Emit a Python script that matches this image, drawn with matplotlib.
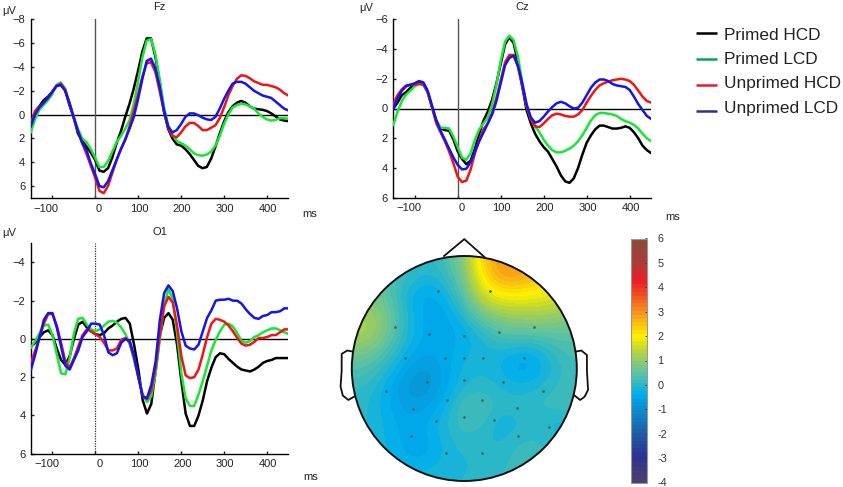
import matplotlib
matplotlib.use("Agg")
import matplotlib.pyplot as plt
import numpy as np
from matplotlib.colors import LinearSegmentedColormap
from matplotlib.patches import Circle
from matplotlib.transforms import ScaledTranslation

plt.rcParams["font.family"] = ["Liberation Sans", "DejaVu Sans"]

W, H = 843, 487

times = list(range(-150, 451, 10))

fz_primed_hcd = [1.2, 0.0, -0.7, -1.2, -1.5, -1.9, -2.4, -2.5, -2.1, -0.8, 0.2, 1.6, 2.2, 2.7, 3.2, 3.8, 4.7, 4.8, 4.5, 3.6, 2.4, 1.4, 0.2, -0.9, -2.2, -3.7, -5.3, -6.4, -6.4, -4.9, -2.8, -0.3, 1.2, 2.0, 2.5, 2.6, 2.9, 3.3, 3.8, 4.3, 4.5, 4.4, 3.7, 2.7, 1.6, 0.6, -0.2, -0.7, -1.0, -1.15, -1.0, -0.7, -0.5, -0.45, -0.4, -0.3, -0.1, 0.15, 0.4, 0.5, 0.55]
fz_primed_lcd = [1.5, 0.4, -0.4, -0.8, -1.2, -1.7, -2.5, -2.7, -2.2, -1.0, 0.2, 1.2, 2.0, 2.3, 2.9, 3.6, 4.4, 4.4, 3.9, 3.1, 2.3, 1.8, 1.2, 0.5, -0.9, -2.8, -4.8, -6.2, -6.35, -5.1, -3.0, -0.7, 0.9, 1.7, 2.2, 2.4, 2.6, 2.9, 3.25, 3.4, 3.45, 3.35, 3.1, 2.6, 1.8, 0.8, 0.0, -0.6, -0.8, -0.9, -0.85, -0.7, -0.5, -0.1, 0.2, 0.4, 0.5, 0.45, 0.3, 0.3, 0.35]
fz_unprimed_hcd = [0.8, -0.3, -0.7, -1.0, -1.4, -1.9, -2.4, -2.6, -2.1, -1.0, 0.3, 1.4, 2.4, 3.3, 4.3, 5.3, 6.4, 6.6, 6.0, 4.9, 3.8, 2.9, 2.1, 1.0, -0.3, -1.7, -3.2, -4.3, -4.4, -3.6, -2.0, -0.3, 1.1, 1.8, 1.9, 1.5, 1.0, 0.7, 0.7, 0.95, 1.3, 1.3, 1.1, 0.9, 0.3, -0.6, -1.6, -2.4, -3.0, -3.3, -3.25, -3.05, -2.8, -2.65, -2.5, -2.5, -2.4, -2.3, -2.1, -1.8, -1.6]
fz_unprimed_lcd = [1.0, 0.0, -0.6, -1.0, -1.4, -1.9, -2.4, -2.5, -2.0, -1.0, 0.2, 1.4, 2.4, 3.0, 4.1, 5.0, 6.0, 6.1, 5.6, 4.7, 3.8, 2.9, 2.1, 1.2, 0.2, -1.3, -3.0, -4.5, -4.7, -3.9, -2.4, -0.4, 1.0, 1.5, 1.3, 0.8, 0.2, -0.1, -0.1, 0.05, 0.25, 0.4, 0.45, 0.2, -0.5, -1.3, -2.0, -2.6, -2.75, -2.75, -2.6, -2.3, -2.0, -1.8, -1.6, -1.5, -1.4, -1.1, -0.8, -0.5, -0.35]

cz_primed_hcd = [0.0, -0.4, -0.9, -1.1, -1.4, -1.6, -1.75, -1.7, -1.1, -0.1, 0.8, 1.35, 1.45, 1.5, 2.1, 2.9, 3.4, 3.75, 3.5, 2.7, 1.7, 0.8, 0.2, -0.6, -1.7, -3.0, -4.3, -4.8, -4.4, -3.1, -1.5, 0.1, 1.0, 1.7, 2.2, 2.6, 2.9, 3.4, 3.9, 4.5, 4.9, 5.0, 4.7, 4.0, 3.1, 2.3, 1.8, 1.4, 1.15, 1.15, 1.25, 1.35, 1.35, 1.3, 1.2, 1.3, 1.6, 2.0, 2.5, 2.8, 3.0]
cz_primed_lcd = [1.1, 0.2, -0.5, -0.95, -1.2, -1.5, -1.65, -1.6, -1.1, -0.1, 0.9, 1.3, 1.3, 1.35, 1.9, 2.6, 3.3, 3.45, 3.0, 2.1, 1.4, 1.0, 0.6, -0.3, -1.6, -3.2, -4.5, -4.9, -4.6, -3.5, -1.8, -0.2, 0.7, 1.2, 1.6, 2.1, 2.5, 2.8, 2.95, 2.95, 2.85, 2.7, 2.5, 2.2, 1.8, 1.3, 0.8, 0.45, 0.3, 0.3, 0.35, 0.4, 0.5, 0.7, 0.85, 0.95, 1.1, 1.35, 1.7, 2.0, 2.2]
cz_unprimed_hcd = [-0.3, -0.9, -1.3, -1.55, -1.6, -1.6, -1.65, -1.6, -1.1, -0.1, 1.0, 1.6, 2.2, 2.9, 3.7, 4.6, 4.95, 4.85, 4.1, 3.0, 2.1, 1.4, 1.0, 0.3, -0.7, -1.9, -3.1, -3.6, -3.6, -2.8, -1.5, -0.2, 0.7, 1.2, 1.25, 1.0, 0.7, 0.45, 0.35, 0.4, 0.5, 0.55, 0.55, 0.4, 0.1, -0.4, -0.85, -1.25, -1.55, -1.7, -1.8, -1.9, -1.95, -2.0, -1.95, -1.85, -1.6, -1.2, -0.8, -0.5, -0.4]
cz_unprimed_lcd = [0.0, -0.7, -1.2, -1.5, -1.6, -1.7, -1.85, -1.75, -1.2, -0.2, 0.8, 1.5, 2.1, 2.7, 3.3, 3.8, 4.1, 4.05, 3.6, 2.9, 2.2, 1.6, 1.0, 0.4, -0.5, -1.7, -2.9, -3.4, -3.55, -2.9, -1.7, -0.3, 0.6, 0.95, 0.85, 0.55, 0.2, -0.1, -0.35, -0.45, -0.35, -0.15, 0.0, -0.05, -0.4, -0.9, -1.4, -1.75, -1.95, -1.95, -1.85, -1.65, -1.55, -1.5, -1.45, -1.25, -0.8, -0.3, 0.1, 0.5, 0.7]

o1_primed_hcd = [0.4, 0.2, -0.1, -0.35, -0.45, -0.2, 0.5, 1.1, 1.35, 0.9, 0.0, -0.75, -0.9, -0.6, -0.4, -0.25, -0.2, -0.3, -0.55, -0.7, -0.9, -1.05, -1.1, -0.8, 0.3, 1.6, 3.2, 3.9, 3.4, 1.7, -0.2, -1.1, -1.35, -1.0, 0.3, 2.2, 3.9, 4.55, 4.55, 4.0, 3.2, 2.2, 1.5, 0.95, 0.75, 0.8, 1.05, 1.25, 1.45, 1.6, 1.65, 1.7, 1.6, 1.45, 1.25, 1.15, 1.1, 1.0, 1.0, 1.0, 1.0]
o1_primed_lcd = [0.45, 0.1, -0.3, -0.7, -0.75, -0.2, 0.8, 1.8, 1.85, 1.0, -0.3, -1.05, -1.1, -0.75, -0.5, -0.4, -0.5, -0.7, -0.9, -0.95, -0.85, -0.6, -0.25, 0.3, 1.1, 2.0, 2.9, 3.3, 3.0, 1.8, 0.0, -1.8, -2.6, -2.1, -0.3, 1.8, 3.1, 3.5, 3.5, 2.9, 2.2, 1.4, 0.6, 0.05, -0.4, -0.75, -0.8, -0.65, -0.3, 0.1, 0.2, 0.1, -0.1, -0.2, -0.35, -0.45, -0.55, -0.55, -0.45, -0.35, -0.25]
o1_unprimed_hcd = [1.2, 0.6, -0.1, -0.8, -1.3, -1.3, -0.7, 0.2, 1.2, 1.5, 1.0, 0.4, -0.2, -0.5, -0.4, -0.25, -0.1, 0.2, 0.6, 0.6, 0.5, 0.05, -0.05, 0.2, 1.0, 2.0, 3.0, 3.15, 2.7, 1.5, -0.2, -1.7, -2.2, -1.9, -0.7, 0.9, 1.9, 2.05, 2.0, 1.6, 0.8, -0.1, -0.8, -1.05, -1.0, -0.9, -0.7, -0.4, -0.05, 0.25, 0.35, 0.3, 0.15, -0.05, -0.05, -0.1, -0.2, -0.2, -0.35, -0.5, -0.5]
o1_unprimed_lcd = [1.6, 0.8, -0.1, -1.0, -1.35, -1.35, -0.6, 0.4, 1.4, 1.6, 1.1, 0.6, -0.1, -0.4, -0.8, -0.8, -0.75, -0.2, 0.7, 0.85, 0.75, 0.2, 0.0, 0.1, 0.9, 2.0, 3.0, 3.1, 2.4, 1.2, -1.0, -2.4, -2.8, -2.5, -1.6, -0.4, 0.35, 0.5, 0.55, 0.3, -0.4, -1.1, -1.5, -2.0, -2.05, -2.05, -2.1, -2.0, -2.0, -1.85, -1.55, -1.3, -1.1, -1.05, -1.2, -1.25, -1.4, -1.4, -1.45, -1.6, -1.6]

condition_names = ["Primed HCD", "Primed LCD", "Unprimed HCD", "Unprimed LCD"]
curve_colors = ["#000000", "#17e636", "#f01414", "#1414f0"]
legend_colors = ["#000000", "#00a651", "#ed1c24", "#2e3192"]

# scalp map values, rows from nose to back, columns left to right
topo = [
    [0, 0, 0, 0, 0, 0.2, 0.9, 2.5, 2.9, 2.9, 2.5, 2, 2],
    [0.4, 0.4, 0.4, 0.1, -0.1, 0.1, 0.8, 2.2, 3.0, 2.9, 2.6, 2, 2],
    [0.9, 0.8, 0.4, -0.2, -0.5, -0.3, 0.5, 1.7, 2.1, 2.1, 2.0, 1.8, 1.5],
    [1.1, 1.1, 0.7, -0.2, -0.5, -0.5, 0.0, 0.9, 1.2, 1.3, 1.3, 1.2, 1],
    [1.3, 1.3, 0.7, -0.1, -0.5, -0.5, -0.4, 0.0, 0.5, 0.6, 0.6, 0.6, 0.5],
    [0.9, 0.8, 0.3, -0.3, -0.5, -0.5, -0.3, -0.2, -0.1, -0.3, -0.2, 0.2, 0.3],
    [0.4, 0.3, -0.1, -0.6, -0.8, -0.5, -0.2, -0.1, -0.3, -0.6, -0.4, 0, 0.2],
    [0.1, 0, -0.4, -0.8, -0.9, -0.5, -0.1, 0, -0.1, -0.2, -0.1, 0.1, 0.2],
    [0, -0.1, -0.4, -0.7, -0.6, -0.3, 0.3, 0.3, 0, 0, 0.1, 0.2, 0.2],
    [0, -0.1, -0.3, -0.5, -0.4, -0.1, 0.2, 0.1, -0.3, -0.1, 0, -0.3, 0],
    [0, -0.1, -0.3, -0.5, -0.5, -0.2, 0, -0.1, -0.1, 0.1, 0.1, 0, 0],
    [0, 0, -0.2, -0.4, -0.4, -0.2, -0.1, -0.1, 0, 0.2, 0.1, 0, 0],
    [0, 0, 0, -0.1, -0.1, -0.1, -0.1, 0, 0.1, 0.1, 0, 0, 0],
]

elec_x = [-0.23, 0.23, -0.62, -0.31, 0, 0.31, 0.62, -0.53, -0.17, 0, 0.17, 0.53, -0.33, 0, 0.34, -0.70, -0.15, 0.16, 0.70, -0.46, 0.47, -0.25, 0, 0.26, 0.75, -0.47, 0.48, -0.16, 0.16]
elec_y = [0.69, 0.69, 0.37, 0.31, 0.29, 0.32, 0.37, 0.09, 0.09, 0.09, 0.09, 0.09, -0.12, -0.10, -0.12, -0.20, -0.28, -0.28, -0.20, -0.36, -0.35, -0.47, -0.43, -0.46, -0.52, -0.60, -0.60, -0.75, -0.75]

nose_x = [-0.18, 0, 0.18]
nose_y = [1.0, 1.15, 0.99]
ear_l_x = [-0.99, -1.04, -1.09, -1.09, -1.10, -1.08, -1.03, -0.98]
ear_l_y = [0.15, 0.16, 0.13, -0.015, -0.16, -0.24, -0.28, -0.25]
ear_r_x = [0.99, 1.04, 1.09, 1.09, 1.10, 1.07, 1.03, 0.98]
ear_r_y = [0.15, 0.16, 0.12, -0.015, -0.19, -0.25, -0.28, -0.24]

cbar_levels = [-4, -3, -2, -1, -0.4, 0, 0.5, 1, 1.5, 2, 3, 4.3, 5, 6]
cbar_colors = ["#4b3f72", "#2e3192", "#1c5fa8", "#0a8fd0", "#00aeef", "#2eb8c4", "#5fc3a0",
               "#8fca70", "#c4d92e", "#fff200", "#f7941d", "#ed1c24", "#b03a35", "#8a4b3a"]


def px_axes(fig, left, top, right, bottom, **kw):
    return fig.add_axes([left / W, 1 - bottom / H, (right - left) / W, (bottom - top) / H], **kw)


def erp_panel(fig, box, ylim, yticks, series, vline_style):
    ax = px_axes(fig, *box)
    for vals, col in zip(series, curve_colors):
        ax.plot(times, vals, color=col, lw=1.8, solid_joinstyle="round", zorder=3)
    ax.axhline(0, color="black", lw=1.0, zorder=2)
    if vline_style == "dotted":
        ax.axvline(0, color="#333333", lw=0.9, ls=(0, (1, 1)), zorder=2)
    else:
        ax.axvline(0, color="#555555", lw=1.0, zorder=2)
    ax.set_xlim(-150, 449)
    ax.set_ylim(*ylim)
    ax.spines["top"].set_visible(False)
    ax.spines["right"].set_visible(False)
    ax.spines["left"].set_linewidth(1.0)
    ax.spines["bottom"].set_linewidth(1.0)
    ax.tick_params(direction="in", length=2, width=1, labelsize=8, pad=4, colors="#222222")
    ax.set_yticks(yticks)
    ax.set_yticklabels([str(v).replace("-", "\u2212") for v in yticks])
    xticks = [-100, 0, 100, 200, 300, 400]
    ax.set_xticks(xticks)
    ax.set_xticklabels(["\u2212100", "0", "100", "200", "300", "400"])
    shifts = [-6, 4, 1, 1, 1, 1]
    for lab, dx in zip(ax.get_xticklabels(), shifts):
        lab.set_transform(lab.get_transform() + ScaledTranslation(dx / 100, 0, fig.dpi_scale_trans))
    return ax


fig = plt.figure(figsize=(W / 100, H / 100), dpi=100)

erp_panel(fig, (30.7, 19.3, 288, 198), (7, -8), list(range(-8, 7, 2)),
          [fz_primed_hcd, fz_primed_lcd, fz_unprimed_hcd, fz_unprimed_lcd], "solid")
erp_panel(fig, (393.3, 19.3, 650.7, 197.7), (6, -6), list(range(-6, 7, 2)),
          [cz_primed_hcd, cz_primed_lcd, cz_unprimed_hcd, cz_unprimed_lcd], "solid")
erp_panel(fig, (31, 243.3, 288.3, 453.7), (6, -5), list(range(-4, 7, 2)),
          [o1_primed_hcd, o1_primed_lcd, o1_unprimed_hcd, o1_unprimed_lcd], "dotted")

# scalp map
cmap = LinearSegmentedColormap.from_list(
    "scalp", [((v + 4) / 10, c) for v, c in zip(cbar_levels, cbar_colors)], N=64)
cx, cy, r = 464.3, 368.5, 112.5
span = 1.25 * r
head = px_axes(fig, cx - span, cy - span, cx + span, cy + span)
step = 1 / 6
im = head.imshow(topo, cmap=cmap, vmin=-4, vmax=6, interpolation="bicubic",
                 extent=[-1 - step / 2, 1 + step / 2, -1 - step / 2, 1 + step / 2])
clip = Circle((0, 0), 1, transform=head.transData)
im.set_clip_path(clip)
head.add_patch(Circle((0, 0), 1, fill=False, ec="#111111", lw=1.4, zorder=4))
head.plot(nose_x, nose_y, color="#111111", lw=1.3)
head.plot(ear_l_x, ear_l_y, color="#111111", lw=1.3)
head.plot(ear_r_x, ear_r_y, color="#111111", lw=1.3)
head.scatter(elec_x, elec_y, s=4, color="#3c6a70", zorder=5, linewidths=0)
head.set_xlim(-1.25, 1.25)
head.set_ylim(-1.25, 1.25)
head.axis("off")

# colour bar
cax = px_axes(fig, 631, 238.5, 647, 482.5)
cb = fig.colorbar(im, cax=cax, ticks=list(range(-4, 7)))
cb.ax.set_yticklabels([str(v) for v in range(-4, 7)])
cb.ax.tick_params(direction="in", length=1.5, width=0.6, labelsize=7.8, pad=7.5, colors="#333333")
cb.outline.set_edgecolor("#999999")
cb.outline.set_linewidth(0.8)

# labels and legend, placed in figure pixels
over = fig.add_axes([0, 0, 1, 1], facecolor="none")
over.set_xlim(0, W)
over.set_ylim(H, 0)
over.axis("off")

for x, y, s in [(159.5, 7.5, "Fz"), (522, 7.5, "Cz"), (160, 232, "O1"),
                (9, 11, "\u03bcV"), (366, 8, "\u03bcV"), (9, 233, "\u03bcV"),
                (310, 214, "ms"), (672.7, 217, "ms"), (310.7, 477, "ms")]:
    over.text(x, y, s, fontsize=8, ha="center", va="center", color="#222222")

legend_y = [32.7, 58.7, 84.7, 111]
text_y = [35.5, 59.5, 83.5, 108]
for name, col, ly, ty in zip(condition_names, legend_colors, legend_y, text_y):
    over.plot([696, 716.7], [ly, ly], color=col, lw=1.8, solid_capstyle="butt")
    over.text(724, ty, name, fontsize=12.4, ha="left", va="center", color="#222222")

fig.savefig("out.png", dpi=100)
